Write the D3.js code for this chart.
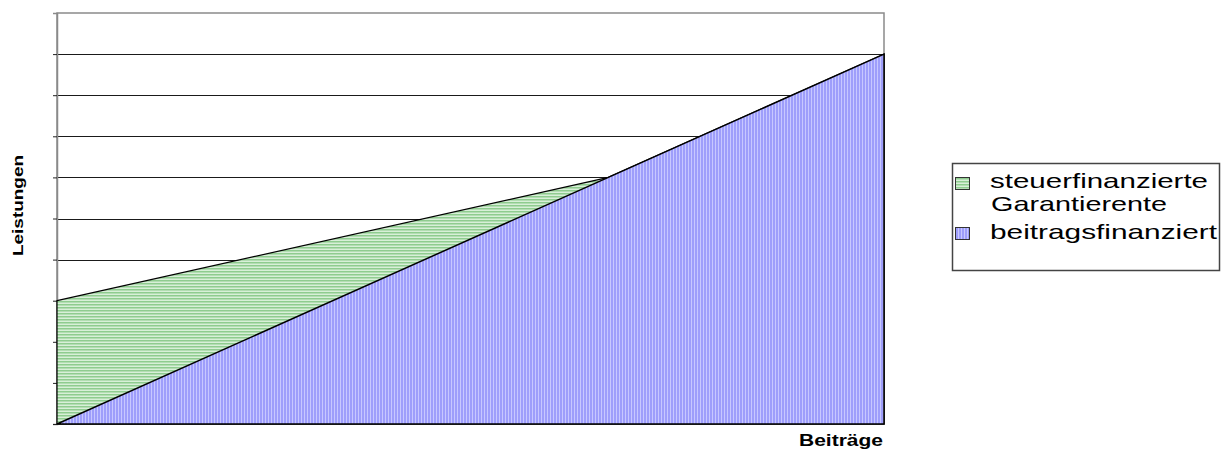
<!DOCTYPE html>
<html>
<head>
<meta charset="utf-8">
<script src="https://cdn.jsdelivr.net/npm/d3@7"></script>
<style>
  body { margin: 0; background: #fff; }
  text { font-family: Arial, "Liberation Sans", sans-serif; fill: #000; }
</style>
</head>
<body>
<svg id="chart" width="1223" height="454"></svg>
<script>
// data
const beitraege = [0, 6, 9];          // x: contributions
const beitragsfinanziert = [0, 6, 9]; // contribution-financed benefit
const garantie = [3, 6, 9];           // tax-financed guarantee (top of green area)
const yTicks = [0, 1, 2, 3, 4, 5, 6, 7, 8, 9, 10];
const seriesNames = ["steuerfinanzierte", "Garantierente", "beitragsfinanziert"];

const svg = d3.select("svg#chart");
const plot = { left: 57, right: 884, top: 13, bottom: 424 };

const x = d3.scaleLinear().domain([0, 9]).range([plot.left, plot.right]);
const y = d3.scaleLinear().domain([0, 10]).range([plot.bottom, plot.top]);

// hatch patterns
const defs = svg.append("defs");
const pg = defs.append("pattern").attr("id", "hatchGreen")
  .attr("patternUnits", "userSpaceOnUse").attr("width", 8).attr("height", 3);
pg.append("rect").attr("width", 8).attr("height", 3).attr("fill", "#d8efd8");
pg.append("rect").attr("y", 1).attr("width", 8).attr("height", 1.5).attr("fill", "#8fcc8f");

const pb = defs.append("pattern").attr("id", "hatchBlue")
  .attr("patternUnits", "userSpaceOnUse").attr("width", 3).attr("height", 8);
pb.append("rect").attr("width", 3).attr("height", 8).attr("fill", "#9e9efb");
pb.append("rect").attr("x", 1).attr("width", 1).attr("height", 8).attr("fill", "#c8c8ff");

// plot frame
svg.append("rect")
  .attr("x", plot.left).attr("y", plot.top)
  .attr("width", plot.right - plot.left).attr("height", plot.bottom - plot.top)
  .attr("fill", "#fff").attr("stroke", "#8a8a8a").attr("stroke-width", 1.5);

// gridlines
svg.append("g").selectAll("line")
  .data(yTicks.slice(1, -1))
  .enter().append("line")
    .attr("x1", plot.left).attr("x2", plot.right)
    .attr("y1", d => Math.round(y(d)) + 0.5).attr("y2", d => Math.round(y(d)) + 0.5)
    .attr("stroke", "#1a1a1a").attr("stroke-width", 1);

// y axis ticks (no labels)
svg.append("g")
  .attr("transform", "translate(" + plot.left + ",0)")
  .call(d3.axisLeft(y).tickValues(yTicks.slice(0, -1)).tickSize(4).tickFormat(""))
  .call(g => g.select(".domain").attr("stroke", "#8a8a8a").attr("stroke-width", 1.5))
  .call(g => g.selectAll(".tick line").attr("stroke", "#222"));

const pts = (ys) => beitraege.map((b, i) => [b, ys[i]]);

const area = d3.area().x(d => x(d[0])).y0(y(0)).y1(d => y(d[1]));

// green area (guarantee)
svg.append("path")
  .datum(pts(garantie))
  .attr("d", area)
  .attr("fill", "url(#hatchGreen)")
  .attr("stroke", "#000").attr("stroke-width", 1.2);

// blue area (contribution-financed)
svg.append("path")
  .datum(pts(beitragsfinanziert))
  .attr("d", area)
  .attr("fill", "url(#hatchBlue)")
  .attr("stroke", "#000").attr("stroke-width", 1.5);

// axis titles
svg.append("text")
  .attr("x", 799).attr("y", 446)
  .attr("font-size", 16).attr("font-weight", "bold")
  .attr("textLength", 84).attr("lengthAdjust", "spacingAndGlyphs")
  .text("Beiträge");

svg.append("text")
  .attr("transform", "translate(23,256) rotate(-90)")
  .attr("font-size", 14).attr("font-weight", "bold")
  .attr("textLength", 101).attr("lengthAdjust", "spacingAndGlyphs")
  .text("Leistungen");

// legend
const legend = svg.append("g").attr("class", "legend");
legend.append("rect")
  .attr("x", 952.5).attr("y", 163.5).attr("width", 267).attr("height", 107)
  .attr("fill", "#fff").attr("stroke", "#444").attr("stroke-width", 1.5);

legend.append("rect")
  .attr("x", 955.5).attr("y", 177.5).attr("width", 14).attr("height", 12)
  .attr("fill", "url(#hatchGreen)").attr("stroke", "#333");
legend.append("rect")
  .attr("x", 955.5).attr("y", 227.5).attr("width", 14).attr("height", 12)
  .attr("fill", "url(#hatchBlue)").attr("stroke", "#333");

const legendText = [
  { t: seriesNames[0], x: 990, y: 188, len: 218 },
  { t: seriesNames[1], x: 991, y: 211, len: 176 },
  { t: seriesNames[2], x: 990, y: 239, len: 227 }
];
legend.selectAll("text.item")
  .data(legendText)
  .enter().append("text")
    .attr("class", "item")
    .attr("x", d => d.x).attr("y", d => d.y)
    .attr("font-size", 21)
    .attr("textLength", d => d.len).attr("lengthAdjust", "spacingAndGlyphs")
    .text(d => d.t);
</script>
</body>
</html>
